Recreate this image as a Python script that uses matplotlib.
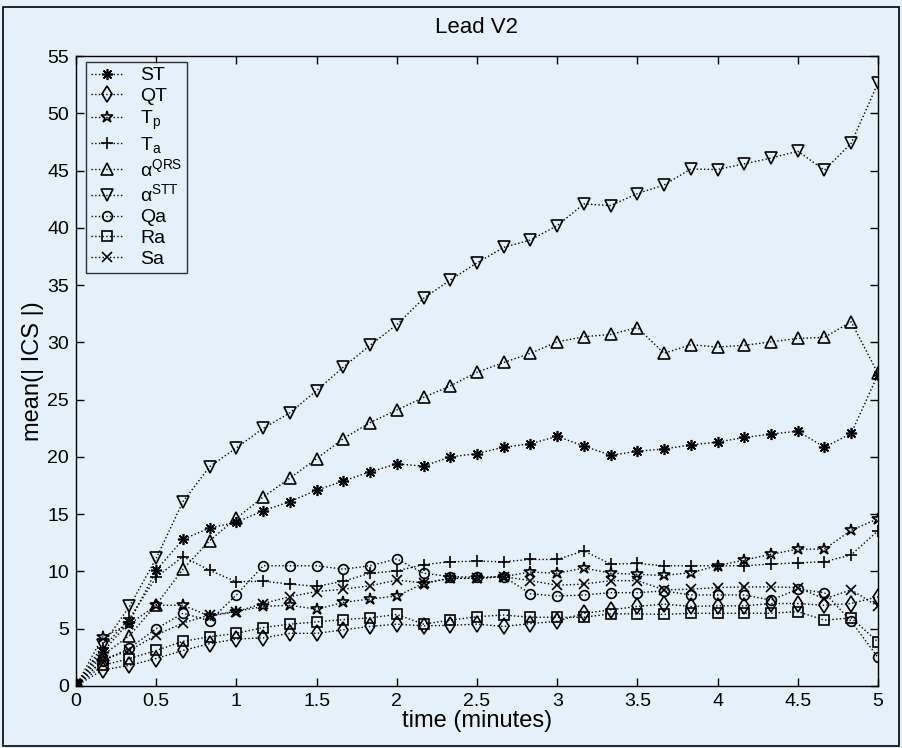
import numpy as np
import matplotlib
matplotlib.use("Agg")
import matplotlib.pyplot as plt
from matplotlib.patches import Rectangle

plt.rcParams['font.family'] = ['Liberation Sans', 'DejaVu Sans']
plt.rcParams['mathtext.fontset'] = 'custom'
plt.rcParams['mathtext.rm'] = 'Liberation Sans'
plt.rcParams['mathtext.it'] = 'Liberation Sans:italic'
plt.rcParams['mathtext.bf'] = 'Liberation Sans:bold'

# time in minutes (every 10 s)
time_min = np.arange(31) / 6.0

ST = [0, 3.0, 5.6, 10.1, 12.8, 13.8, 14.3, 15.3, 16.1, 17.1, 17.9, 18.7, 19.4, 19.2, 20.0, 20.3,
      20.85, 21.15, 21.8, 20.95, 20.15, 20.5, 20.7, 21.05, 21.3, 21.7, 22.0, 22.25, 20.85, 22.05, 27.2]
QT = [0, 1.4, 1.8, 2.4, 3.1, 3.7, 4.1, 4.2, 4.6, 4.6, 4.9, 5.2, 5.4, 5.25, 5.3, 5.4,
      5.2, 5.45, 5.65, 6.35, 6.65, 6.95, 7.15, 6.95, 7.0, 7.0, 7.2, 7.2, 7.05, 7.2, 7.8]
Tp = [0, 4.3, 5.4, 7.05, 7.05, 6.1, 6.5, 6.95, 7.05, 6.7, 7.3, 7.6, 7.85, 8.95, 9.4, 9.4,
      9.55, 9.95, 9.85, 10.3, 9.85, 9.75, 9.65, 9.9, 10.5, 11.0, 11.5, 11.95, 11.95, 13.6, 14.6]
Ta = [0, 3.3, 5.9, 9.5, 11.3, 10.1, 9.1, 9.15, 8.9, 8.7, 9.15, 9.85, 10.05, 10.6, 10.85, 10.9,
      10.85, 11.05, 11.05, 11.8, 10.65, 10.7, 10.5, 10.5, 10.5, 10.5, 10.65, 10.75, 10.85, 11.45, 13.55]
aQRS = [0, 2.7, 4.4, 7.1, 10.2, 12.7, 14.65, 16.5, 18.15, 19.85, 21.6, 23.0, 24.1, 25.2, 26.2, 27.4,
        28.25, 29.05, 30.05, 30.5, 30.7, 31.3, 29.05, 29.8, 29.6, 29.75, 30.05, 30.35, 30.45, 31.8, 27.3]
aSTT = [0, 3.6, 6.95, 11.15, 16.1, 19.15, 20.8, 22.5, 23.85, 25.8, 27.85, 29.75, 31.55, 33.85, 35.45, 36.95,
        38.3, 38.95, 40.2, 42.1, 41.95, 43.0, 43.75, 45.15, 45.1, 45.6, 46.1, 46.7, 45.05, 47.4, 52.65]
Qa = [0, 2.2, 3.3, 5.0, 6.35, 5.7, 7.95, 10.5, 10.5, 10.5, 10.2, 10.5, 11.1, 9.85, 9.55, 9.5,
      9.55, 8.05, 7.85, 7.95, 8.15, 8.15, 8.3, 7.95, 7.95, 7.95, 7.5, 8.45, 8.15, 5.65, 2.5]
Ra = [0, 1.8, 2.4, 3.1, 3.9, 4.3, 4.6, 5.1, 5.4, 5.6, 5.8, 5.95, 6.25, 5.4, 5.75, 6.05,
      6.2, 6.0, 6.0, 6.0, 6.3, 6.3, 6.25, 6.35, 6.35, 6.35, 6.35, 6.5, 5.75, 5.95, 3.85]
Sa = [0, 2.3, 3.1, 4.45, 5.5, 6.2, 6.5, 7.2, 7.8, 8.25, 8.45, 8.75, 9.25, 9.0, 9.4, 9.4,
      9.55, 9.2, 8.8, 8.9, 9.2, 9.2, 8.4, 8.45, 8.6, 8.65, 8.65, 8.6, 7.6, 8.4, 6.95]

series_labels = ['ST', 'QT', r'$\mathrm{T_p}$', r'$\mathrm{T_a}$', r'$\mathrm{\alpha^{QRS}}$',
                 r'$\mathrm{\alpha^{STT}}$', 'Qa', 'Ra', 'Sa']
series_values = [ST, QT, Tp, Ta, aQRS, aSTT, Qa, Ra, Sa]
markers = [(8, 2, 0), 'd', '*', '+', '^', 'v', 'o', 's', 'x']
msizes = [8, 8, 9, 9, 9, 9, 7, 6.5, 7]

bg = '#e4f1fb'
fig = plt.figure(figsize=(9.02, 7.48), dpi=100, facecolor=bg)
fig.patches.append(Rectangle((0.003, 0.003), 0.994, 0.987, transform=fig.transFigure,
                             fill=False, edgecolor='black', linewidth=1.2))
ax = fig.add_axes([0.0843, 0.0829, 0.889, 0.842])
ax.set_facecolor(bg)

for vals, lab, mk, ms in zip(series_values, series_labels, markers, msizes):
    filled = mk in ('+', 'x') or isinstance(mk, tuple)
    ax.plot(time_min, vals, linestyle=':', color='black', linewidth=1.0,
            marker=mk, markersize=ms, markerfacecolor='black' if filled else 'none',
            markeredgecolor='black', markeredgewidth=1.2, label=lab)

ax.set_xlim(0, 5)
ax.set_ylim(0, 55)
ax.set_xticks(np.arange(0, 5.01, 0.5))
ax.set_xticklabels(['0', '0.5', '1', '1.5', '2', '2.5', '3', '3.5', '4', '4.5', '5'])
ax.set_yticks(np.arange(0, 56, 5))
ax.tick_params(direction='in', top=True, right=True, length=6, width=1, labelsize=14, pad=5)
for s in ax.spines.values():
    s.set_linewidth(1.0)

ax.set_xlabel('time (minutes)', fontsize=17, labelpad=0)
ax.set_ylabel('mean(| ICS |)', fontsize=17, labelpad=2)
ax.set_title('Lead V2', fontsize=16, pad=17)

leg = ax.legend(loc='upper left', bbox_to_anchor=(0.013, 0.991), borderaxespad=0,
                fontsize=14, handlelength=1.6, handletextpad=0.9, labelspacing=0.17,
                frameon=True, fancybox=False, edgecolor='black', facecolor=bg,
                borderpad=0.25)
leg.get_frame().set_linewidth(1.0)

fig.savefig('out.png', dpi=100, facecolor=bg)
